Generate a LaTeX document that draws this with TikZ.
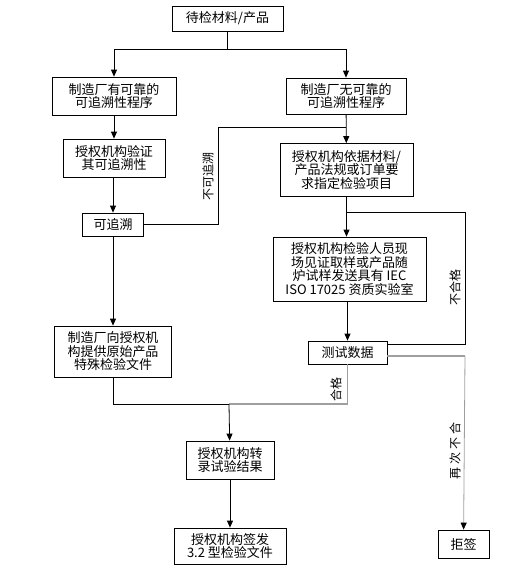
\documentclass[tikz,border=0pt]{standalone}
\usepackage{fontspec}
\newfontfamily\cjk{Noto Sans CJK SC}
\usetikzlibrary{arrows.meta,calc}
\tikzset{
  box/.style={draw,line width=0.8pt,align=center,inner sep=0pt,
              font=\cjk\fontsize{13}{13.5}\selectfont},
  arr/.style={-{Triangle[width=6pt,length=7pt,color=black]},line width=0.8pt},
  ln/.style={line width=0.8pt},
  gln/.style={line width=1.3pt,gray!75},
  lbl/.style={rotate=-90,font=\cjk\fontsize{12}{13}\selectfont,inner sep=0pt}
}
\begin{document}
\begin{tikzpicture}[x=1pt,y=-1pt]
                \useasboundingbox (0,0) rectangle (517,582);
                \node[box,minimum width=111,minimum height=25] (top) at (227.5,18.5) {待检材料/产品};
                \node[box,minimum width=124,minimum height=38] (zhiyou) at (114,96) {制造厂有可靠的\\可追溯性程序};
                \node[box,minimum width=120,minimum height=36] (zhiwu) at (346,96) {制造厂无可靠的\\可追溯性程序};
                \node[box,minimum width=102,minimum height=38] (yanzheng) at (114,158) {授权机构验证\\其可追溯性};
                \node[box,minimum width=133,minimum height=53] (yiju) at (346.5,170) {授权机构依据材料/\\产品法规或订单要\\求指定检验项目};
                \node[box,minimum width=61,minimum height=23] (kezhuisu) at (113,224.5) {可追溯};
                \node[box,minimum width=153,minimum height=64] (xianchang) at (349.5,269) {授权机构检验人员现\\场见证取样或产品随\\炉试样发送具有 IEC\\ISO 17025 资质实验室};
                \node[box,minimum width=79,minimum height=23] (shuju) at (347.5,352.5) {测试数据};
                \node[box,minimum width=117,minimum height=51] (tigong) at (113,351.5) {制造厂向授权机\\构提供原始产品\\特殊检验文件};
                \node[box,minimum width=88,minimum height=38] (zhuanlu) at (230,460) {授权机构转\\录试验结果};
                \node[box,minimum width=112,minimum height=36] (qianfa) at (230,546) {授权机构签发\\3.2 型检验文件};
                \node[box,minimum width=51,minimum height=28] (juqian) at (463.5,544) {拒签};
                % turning points
                \coordinate (fen) at (227.5,49);
                \coordinate (buke) at (218,127);
                \coordinate (buhe) at (465,212);
                \coordinate (zaici) at (465,356);
                \coordinate (hb) at (229,404);
                % connectors
                \draw[arr] (top) -- (fen) -| (zhiyou);
                \draw[arr] (fen) -| (zhiwu);
                \draw[arr] (zhiyou) -- (yanzheng);
                \draw[arr] (zhiwu) -- (yiju);
                \draw[arr] (yanzheng.south -| kezhuisu) -- (kezhuisu);
                \draw[ln] (zhiwu.south |- buke) -- (buke) |- (kezhuisu.east);
                \draw[arr] (kezhuisu) -- (tigong);
                \draw[arr] (yiju) -- (xianchang.north -| yiju);
                \draw[ln] (yiju.south |- buhe) -- (buhe) |- ($(shuju.north east)+(0,4)$);
                \draw[arr] (xianchang.south -| shuju) -- (shuju);
                \draw[gln] ($(shuju.east)+(0,3.5)$) -- (zaici);
                \draw[gln,arr] (zaici) -- (juqian);
                \draw[gln] (shuju) -- (shuju |- hb) -- (hb);
                \draw[ln] (tigong) -- (tigong |- hb) -- (hb);
                \draw[arr] (hb) -- (zhuanlu);
                \draw[arr] (zhuanlu) -- (qianfa);
                % labels
                \node[lbl,rotate=180] (lbkz) at (208,176) {不可追溯};
                \node[lbl,rotate=180] (lbbh) at (455,287) {不合格};
                \node[lbl,rotate=180] (lbzc) at (455,451) {再\hspace{3pt}次\hspace{3pt}不\hspace{3pt}合};
                \node[lbl,rotate=180] (lbhg) at (336,389) {合格};
\end{tikzpicture}
\end{document}
